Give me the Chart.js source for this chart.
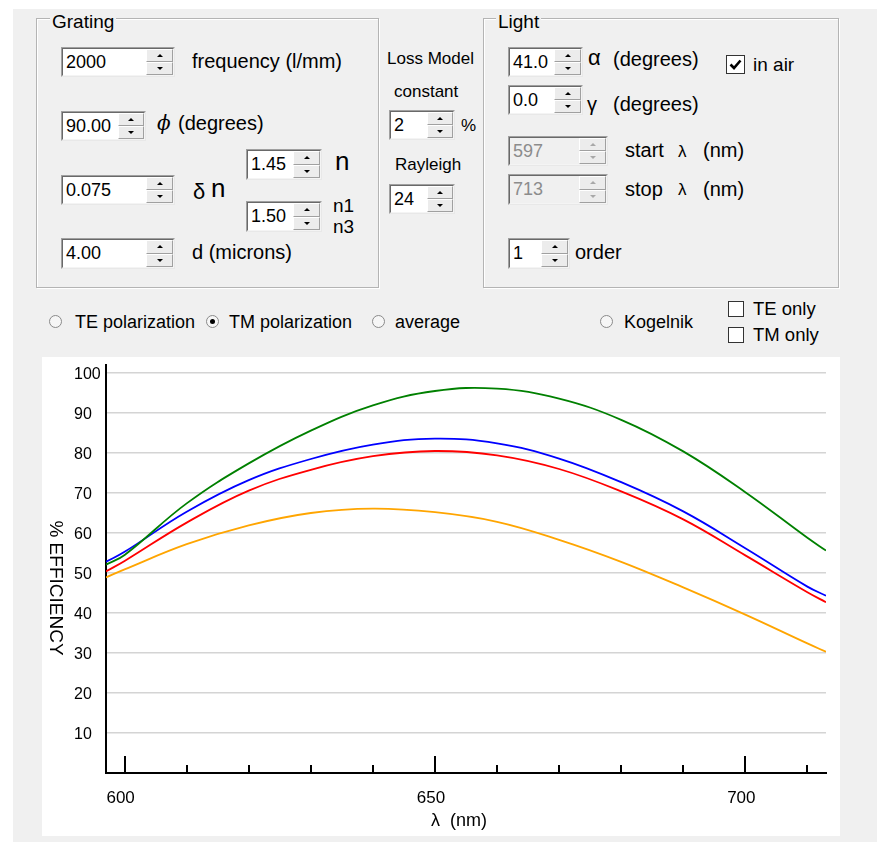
<!DOCTYPE html>
<html>
<head>
<meta charset="utf-8">
<title>Grating efficiency</title>
<script src="https://cdn.jsdelivr.net/npm/chart.js@4.4.1/dist/chart.umd.min.js"></script>
<style>
  body { margin: 0; background: #fff; font-family: "Liberation Sans", Arial, sans-serif; color: #000; }
  #form { position: absolute; left: 13px; top: 9px; width: 864px; height: 833px; background: #f0f0f0; }
  .group { position: absolute; box-sizing: border-box; border: 1px solid #b4b4b4; box-shadow: inset 1px 1px 0 #fff, 1px 1px 0 #fff; }
  .gtitle { position: absolute; background: #f0f0f0; padding: 0 2px; white-space: nowrap; }
  .lbl { position: absolute; white-space: nowrap; }
  .spin { position: absolute; box-sizing: border-box; background: #fff; border-style: solid; border-width: 1px; border-color: #a0a0a0 #e8e8e8 #e8e8e8 #a0a0a0; }
  .spin .inner { position: absolute; left: 0; top: 0; right: 0; bottom: 0; border: 1px solid; border-color: #696969 #f4f4f4 #f4f4f4 #696969; }
  .spin .val { position: absolute; left: 4px; top: 0; bottom: 0; display: flex; align-items: center; font-size: 18px; }
  .spin .btn { position: absolute; top: 1px; bottom: 1px; right: 1px; display: flex; flex-direction: column; }
  .spin .half { flex: 1; box-sizing: border-box; background: #ececec; border: 1px solid; border-color: #fff #a0a0a0 #a0a0a0 #fff; display: flex; align-items: center; justify-content: center; }
  .spin .up i { width: 0; height: 0; border-left: 3px solid transparent; border-right: 3px solid transparent; border-bottom: 3px solid #000; }
  .spin .dn i { width: 0; height: 0; border-left: 3px solid transparent; border-right: 3px solid transparent; border-top: 3px solid #000; }
  .spin.off { background: #f0f0f0; }
  .spin.off .val { color: #8c8c8c; }
  .spin.off .up i { border-bottom-color: #a8a8a8; }
  .spin.off .dn i { border-top-color: #a8a8a8; }
  .radio { position: absolute; box-sizing: border-box; width: 13px; height: 13px; border-radius: 50%; border: 1px solid #8a8a8a; background: #f6f6f6; }
  .radio.on::after { content: ""; position: absolute; left: 3px; top: 3px; width: 5px; height: 5px; border-radius: 50%; background: #000; }
  .check { position: absolute; box-sizing: border-box; border: 1px solid #333; background: #fff; }
  #chartBox { position: absolute; left: 42px; top: 357px; width: 798px; height: 479px; background: #fff; }
</style>
</head>
<body>
<div id="form"></div>
<div class="group" style="left:36px; top:18px; width:343px; height:270px;"></div>
<div class="group" style="left:483px; top:18px; width:356px; height:270px;"></div>
<div id="chartBox"><canvas id="effChart" width="798" height="479"></canvas></div>

<script>
// chart values
const wavelengths = [597, 600, 610, 620, 630, 640, 650, 660, 670, 680, 690, 700, 710, 713];
const greenEff  = [52.1, 54.5, 67.4, 77.4, 85.6, 91.9, 95.5, 96.1, 93.6, 88.3, 80.4, 70.2, 58.8, 55.6];
const blueEff   = [52.8, 55.3, 65.3, 73.2, 78.5, 82.1, 83.6, 82.4, 78.6, 72.7, 65.4, 56.2, 46.6, 44.3];
const redEff    = [50.4, 53.0, 62.6, 70.6, 75.8, 79.2, 80.5, 79.4, 76.0, 70.4, 63.4, 54.4, 45.2, 42.7];
const orangeEff = [48.9, 50.9, 57.2, 61.9, 65.0, 66.1, 65.2, 62.8, 58.3, 52.8, 46.4, 39.6, 32.4, 30.3];

const xTickValues = [600, 610, 620, 630, 640, 650, 660, 670, 680, 690, 700, 710];
const xLabelValues = [600, 650, 700];
const yTickValues = [10, 20, 30, 40, 50, 60, 70, 80, 90, 100];
const xTitle = 'λ  (nm)';
const yTitle = '% EFFICIENCY';

const FONT = '"Liberation Sans", Arial, sans-serif';

function addLabel(x, baseline, text, size, style) {
    const el = document.createElement('div');
    el.className = 'lbl';
    el.textContent = text;
    el.style.left = x + 'px';
    el.style.top = (baseline - 0.846 * size) + 'px';
    el.style.fontSize = size + 'px';
    el.style.lineHeight = size + 'px';
    if (style) el.style.cssText += style;
    document.body.appendChild(el);
}

function addTitle(x, baseline, text) {
    const el = document.createElement('div');
    el.className = 'gtitle';
    el.textContent = text;
    el.style.left = (x - 2) + 'px';
    el.style.top = (baseline - 0.846 * 19) + 'px';
    el.style.fontSize = '19px';
    el.style.lineHeight = '19px';
    document.body.appendChild(el);
}

function addSpin(x, y, w, h, bw, text, disabled) {
    const box = document.createElement('div');
    box.className = 'spin' + (disabled ? ' off' : '');
    box.style.cssText = `left:${x}px; top:${y}px; width:${w}px; height:${h}px;`;
    box.innerHTML = `<div class="inner"></div><div class="val">${text}</div>
        <div class="btn" style="width:${bw}px"><div class="half up"><i></i></div><div class="half dn"><i></i></div></div>`;
    document.body.appendChild(box);
}

function addRadio(cx, cy, on) {
    const el = document.createElement('div');
    el.className = 'radio' + (on ? ' on' : '');
    el.style.left = (cx - 6.5) + 'px';
    el.style.top = (cy - 6.5) + 'px';
    document.body.appendChild(el);
}

function addCheck(x, y, size, on) {
    const el = document.createElement('div');
    el.className = 'check';
    el.style.cssText = `left:${x}px; top:${y}px; width:${size}px; height:${size}px;`;
    if (on) {
        el.innerHTML = '<svg width="17" height="17" style="position:absolute;left:0;top:0">' +
            '<polyline points="3.5,8.5 7,12 13.5,4.5" fill="none" stroke="#000" stroke-width="2.6"/></svg>';
    }
    document.body.appendChild(el);
}

// Grating group
addTitle(52, 28, 'Grating');
addSpin(61, 47, 114, 30, 27, '2000');
addLabel(192, 68, 'frequency (l/mm)', 20);
addSpin(61, 111, 85, 30, 26, '90.00');
addLabel(157, 130, 'ϕ', 20, 'font-style:italic; font-family:"DejaVu Serif", serif;');
addLabel(178, 130, '(degrees)', 20);
addSpin(61, 175, 114, 30, 27, '0.075');
addLabel(193, 200, 'δ', 22);
addLabel(211, 197, 'n', 26);
addSpin(246, 149, 76, 31, 27, '1.45');
addLabel(335, 170, 'n', 26);
addSpin(246, 201, 76, 31, 27, '1.50');
addLabel(333, 212, 'n1', 19);
addLabel(333, 233, 'n3', 19);
addSpin(61, 238, 114, 31, 27, '4.00');
addLabel(192, 259, 'd (microns)', 20);

// Loss model column
addLabel(387, 64, 'Loss Model', 17);
addLabel(394, 97, 'constant', 17);
addSpin(389, 110, 66, 30, 26, '2');
addLabel(461, 131, '%', 17);
addLabel(395, 170, 'Rayleigh', 17);
addSpin(389, 184, 66, 30, 26, '24');

// Light group
addTitle(498, 28.5, 'Light');
addSpin(508, 47, 75, 30, 27, '41.0');
addLabel(588, 66, 'α', 22);
addLabel(613, 66, '(degrees)', 20);
addCheck(726, 55, 19, true);
addLabel(753, 71, 'in air', 19);
addSpin(508, 85, 75, 30, 27, '0.0');
addLabel(587, 111, 'γ', 20);
addLabel(613, 111, '(degrees)', 20);
addSpin(508, 136, 100, 30, 27, '597', true);
addLabel(625, 157, 'start', 20);
addLabel(678, 157, 'λ', 17);
addLabel(703, 157, '(nm)', 20);
addSpin(508, 174, 100, 31, 27, '713', true);
addLabel(625, 195.5, 'stop', 20);
addLabel(678, 195.5, 'λ', 17);
addLabel(703, 195.5, '(nm)', 20);
addSpin(508, 238, 62, 31, 27, '1');
addLabel(575, 259, 'order', 20);

// polarization row
addRadio(55, 321, false);
addLabel(75, 328, 'TE polarization', 18);
addRadio(212, 321, true);
addLabel(229, 328, 'TM polarization', 18);
addRadio(378, 321, false);
addLabel(395, 328, 'average', 18);
addRadio(606, 321, false);
addLabel(624, 328, 'Kogelnik', 18);
addCheck(728, 301, 16, false);
addLabel(753, 316, 'TE only', 18.5);
addCheck(728, 327, 16, false);
addLabel(753, 342, 'TM only', 18.5);

// inward tick marks on the x axis and the two axis titles
const axisDecor = {
    id: 'axisDecor',
    afterDraw(chart) {
        const { ctx, chartArea, scales } = chart;
        const x = scales.x;
        ctx.save();
        ctx.strokeStyle = '#000';
        ctx.lineWidth = 2;
        x.ticks.forEach(t => {
            const px = Math.round(x.getPixelForValue(t.value));
            const len = xLabelValues.includes(t.value) ? 17 : 8;
            ctx.beginPath();
            ctx.moveTo(px, chartArea.bottom);
            ctx.lineTo(px, chartArea.bottom - len);
            ctx.stroke();
        });
        ctx.fillStyle = '#000';
        ctx.textAlign = 'center';
        ctx.textBaseline = 'middle';
        ctx.font = '18px ' + FONT;
        ctx.fillText(xTitle, (chartArea.left + chartArea.right) / 2 - 7, 464);
        ctx.translate(13.5, 231);
        ctx.rotate(Math.PI / 2);
        ctx.font = '19px ' + FONT;
        ctx.fillText(yTitle, 0, 0);
        ctx.restore();
    }
};

function series(values, color) {
    return {
        data: wavelengths.map((w, i) => ({ x: w, y: values[i] })),
        borderColor: color,
        borderWidth: 1.8,
        pointRadius: 0,
        fill: false,
        tension: 0.4
    };
}

document.addEventListener('DOMContentLoaded', function () {
    const ctx = document.getElementById('effChart').getContext('2d');
    new Chart(ctx, {
        type: 'line',
        data: {
            datasets: [
                series(greenEff, '#008000'),
                series(blueEff, '#0000ff'),
                series(redEff, '#ff0000'),
                series(orangeEff, '#ffa500')
            ]
        },
        options: {
            responsive: false,
            animation: false,
            devicePixelRatio: 1,
            layout: { padding: { left: 32, right: 14, top: 8, bottom: 0 } },
            plugins: { legend: { display: false }, tooltip: { enabled: false } },
            scales: {
                x: {
                    type: 'linear',
                    min: 597,
                    max: 713,
                    afterBuildTicks: s => { s.ticks = xTickValues.map(v => ({ value: v })); },
                    afterFit: s => { s.height = 63; },
                    grid: { drawOnChartArea: false, drawTicks: false },
                    border: { color: '#000', width: 2 },
                    ticks: {
                        autoSkip: false,
                        maxRotation: 0,
                        padding: 15.5,
                        labelOffset: -4,
                        color: '#000',
                        font: { family: FONT, size: 17 },
                        callback: v => xLabelValues.includes(v) ? String(v) : ''
                    }
                },
                y: {
                    min: 0,
                    max: 102,
                    afterBuildTicks: s => { s.ticks = yTickValues.map(v => ({ value: v })); },
                    afterFit: s => { s.width = 32; },
                    grid: { color: '#d4d4d4', lineWidth: 1.5, drawTicks: false },
                    border: { color: '#000', width: 2 },
                    ticks: {
                        crossAlign: 'far',
                        padding: 0,
                        labelOffset: 2,
                        color: '#000',
                        font: { family: FONT, size: 16, lineHeight: 1 }
                    }
                }
            }
        },
        plugins: [axisDecor]
    });
});
</script>
</body>
</html>
